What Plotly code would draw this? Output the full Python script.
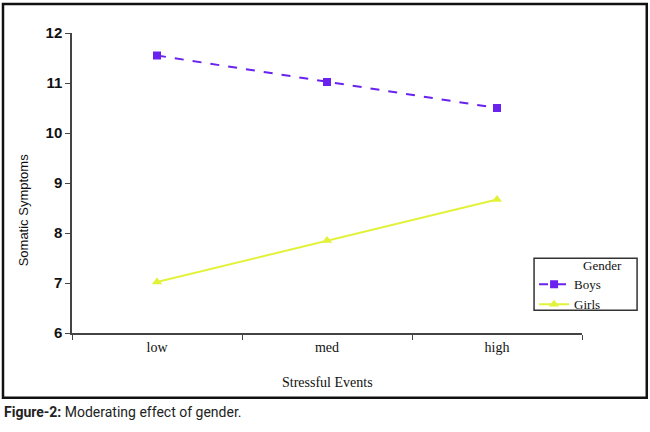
import plotly.graph_objects as go

# stress level categories
stress_levels = ["low", "med", "high"]
boys_scores = [11.55, 11.02, 10.5]
girls_scores = [7.02, 7.85, 8.67]
y_ticks = [6, 7, 8, 9, 10, 11, 12]

BOYS_COLOR = "#6a22ee"
GIRLS_COLOR = "#e2f23a"
SERIF = "Liberation Serif, Times New Roman, serif"
SANS = "Liberation Sans, Arial, sans-serif"
NARROW = "Roboto, Liberation Sans Narrow, sans-serif"

fig = go.Figure()
fig.add_trace(go.Scatter(x=stress_levels, y=boys_scores, name="Boys", mode="lines+markers",
                         line=dict(color=BOYS_COLOR, width=2, dash="dash"),
                         marker=dict(symbol="square", size=8, color=BOYS_COLOR)))
fig.add_trace(go.Scatter(x=stress_levels, y=girls_scores, name="Girls", mode="lines+markers",
                         line=dict(color=GIRLS_COLOR, width=2),
                         marker=dict(symbol="triangle-up", size=9, color=GIRLS_COLOR)))

# plot area: x 72..582 px, y 33..333 px
fig.update_layout(width=650, height=432, margin=dict(l=72, r=68, t=33, b=99),
                  paper_bgcolor="white", plot_bgcolor="white", showlegend=True)
fig.update_xaxes(type="category", range=[-0.5, 2.5], tickson="boundaries", ticks="outside",
                 ticklen=5, tickcolor="#444", showline=True, linecolor="#444", linewidth=1.5,
                 showgrid=False, zeroline=False,
                 tickfont=dict(family=SERIF, size=14, color="#111"))
fig.update_yaxes(range=[6, 12], tickvals=y_ticks, ticks="outside", ticklen=5, tickcolor="#444",
                 showline=True, linecolor="#444", linewidth=1.5, showgrid=False, zeroline=False,
                 tickfont=dict(family=SANS, size=15, color="#111", weight="bold"))
fig.update_layout(legend=dict(x=0.906, y=0.212, xanchor="left", yanchor="top",
                              bgcolor="rgba(0,0,0,0)", borderwidth=0,
                              font=dict(family=SERIF, size=13, color="#111"),
                              tracegroupgap=0, itemwidth=30))

# legend box and title
fig.add_shape(type="rect", xref="paper", yref="paper", x0=0.906, x1=1.108, y0=0.076, y1=0.249,
              line=dict(color="#333", width=1.5), fillcolor="rgba(0,0,0,0)")
fig.add_annotation(text="Gender", xref="paper", yref="paper", x=0.999, y=0.225,
                   xanchor="left", yanchor="middle", showarrow=False,
                   font=dict(family=SERIF, size=13, color="#111"))

# outer frame
fig.add_shape(type="rect", xref="paper", yref="paper", x0=-0.1353, x1=1.127, y0=-0.216, y1=1.0963,
              line=dict(color="#111", width=2.5), fillcolor="rgba(0,0,0,0)")

# axis titles
fig.add_annotation(text="Somatic Symptoms", xref="paper", yref="paper", x=-0.096, y=0.409,
                   xanchor="center", yanchor="middle", textangle=-90, showarrow=False,
                   font=dict(family=SANS, size=13, color="#111"))
fig.add_annotation(text="Stressful Events", xref="paper", yref="paper", x=0.5, y=-0.166,
                   xanchor="center", yanchor="middle", showarrow=False,
                   font=dict(family=SERIF, size=14, color="#111"))

# caption
fig.add_annotation(text="<b>Figure-2:</b> Moderating effect of gender.", xref="paper", yref="paper",
                   x=-0.137, y=-0.262, xanchor="left", yanchor="middle", showarrow=False,
                   font=dict(family=NARROW, size=14, color="#222"))

fig.write_html("out.html", config={"displayModeBar": False},
               post_script="document.body.style.margin='0';")
